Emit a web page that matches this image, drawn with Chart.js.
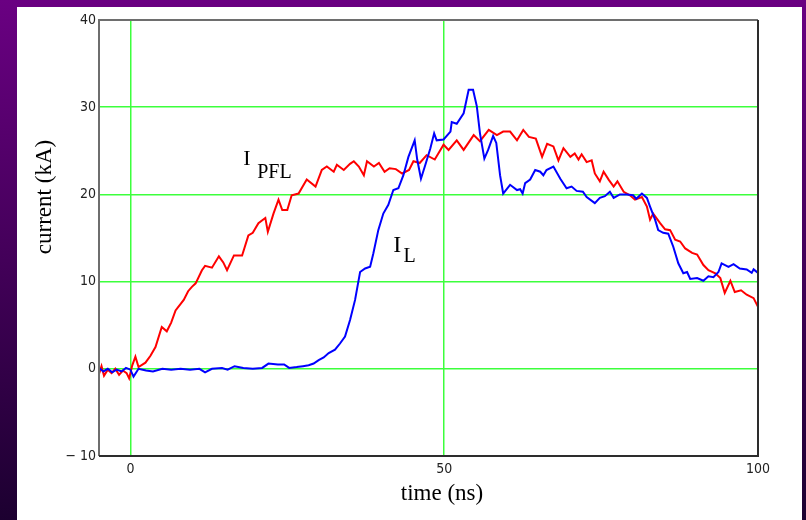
<!DOCTYPE html>
<html lang="en">
<head>
    <meta charset="UTF-8">
    <title>current x time</title>
    <style>
        html, body { margin: 0; padding: 0; }
        body {
            width: 806px;
            height: 520px;
            overflow: hidden;
            background: linear-gradient(to bottom, #6a0082, #1c0030);
            position: relative;
        }
        .painel {
            position: absolute;
            left: 17px;
            top: 7px;
            width: 785px;
            height: 513px;
            background: #ffffff;
        }
        #grafico {
            position: absolute;
            left: 0;
            top: 0;
        }
    </style>
</head>
<body>
    <div class="painel"></div>
    <canvas id="grafico" width="806" height="520"></canvas>

    <script src="https://cdn.jsdelivr.net/npm/chart.js"></script>
    <script>

        // I_PFL (vermelho)
        const tempoPFL = [-5, -4.6, -4.2, -3.6, -3, -2.4, -1.8, -1.2, -0.6, -0.2, 0.3, 0.8, 1.3, 2.4, 3.2, 4, 5, 5.8, 6.5, 7.2,
            8.5, 9.2, 9.8, 10.4, 11.4, 11.9, 13, 14.1, 14.8, 15.4, 16.5, 17.8, 18.8, 19.5, 20.4, 21.5, 21.9, 22.8, 23.6, 24.2,
            25, 25.7, 26.8, 28.1, 29.5, 30.5, 31.3, 32.4, 32.9, 34, 35, 35.6, 36.4, 37.2, 37.7, 38.8, 39.6, 40.5, 41.3, 42.3,
            43.3, 44.4, 45.1, 46.1, 47.2, 48.5, 49.9, 50.7, 52, 53.1, 54.7, 55.7, 57.1, 58.4, 59.4, 60.5, 61.6, 62.6, 63.5, 64.6,
            65.6, 66.4, 67.4, 68.2, 69, 70.1, 70.8, 71.4, 71.9, 72.7, 73.5, 74, 74.8, 75.4, 76.2, 77, 77.6, 78.6, 79.6, 80.4,
            81.5, 82.3, 82.8, 83.3, 84.4, 85.2, 86, 86.8, 87.6, 88.4, 89.5, 90.3, 91.3, 92.1, 93.2, 94, 94.7, 95.6, 96.3, 97.3,
            98.2, 99.3, 100];
        const correntePFL = [-0.6, 0.3, -0.8, -0.1, -0.5, 0, -0.7, -0.2, -0.5, -1.1, 0.4, 1.4, 0.2, 0.7, 1.5, 2.5, 4.8, 4.3, 5.3, 6.7,
            7.9, 8.9, 9.4, 9.8, 11.3, 11.8, 11.6, 12.9, 12.2, 11.3, 13, 13, 15.3, 15.6, 16.7, 17.3, 15.7, 17.8, 19.4, 18.2,
            18.2, 19.9, 20.1, 21.7, 20.9, 22.8, 23.2, 22.6, 23.4, 22.8, 23.5, 23.8, 23.2, 22.2, 23.8, 23.2, 23.6, 22.6, 23, 22.9,
            22.4, 22.8, 23.8, 23.6, 24.5, 24, 25.7, 25.1, 26.2, 25.1, 26.8, 26.1, 27.4, 26.8, 27.2, 27.2, 26.2, 27.4, 26.6, 26.4,
            24.3, 25.8, 25.5, 23.9, 25.3, 24.3, 24.7, 24, 24.6, 23.7, 23.9, 22.4, 21.5, 22.6, 21.7, 20.9, 21.5, 20.3, 19.9, 19.4,
            19.7, 18.6, 17.1, 17.8, 16.7, 16, 15.9, 14.8, 14.6, 13.8, 13.3, 13.1, 11.9, 11.3, 10.95, 10.4, 8.7, 10.1, 8.8, 9,
            8.5, 8.1, 7.1];

        // I_L (azul)
        const tempoL = [-5, -4.3, -3.6, -2.9, -2.2, -1.4, -0.7, 0, 0.5, 1.3, 2.5, 3.6, 5.1, 6.5, 8, 9.5, 11, 11.9, 13, 14.6,
            15.5, 16.6, 18, 19.5, 21, 22, 23.5, 24.5, 25.3, 26.5, 27.5, 28.4, 29.2, 30, 30.8, 31.6, 32.6, 33.4, 34.2, 35,
            35.8, 36.6, 37.4, 38.2, 38.7, 39.5, 40.3, 41.1, 41.9, 42.7, 43.5, 44.3, 45.3, 45.7, 46.3, 47, 47.8, 48.4, 48.8, 49.9,
            51, 51.2, 52, 53.1, 53.9, 54.6, 55.2, 55.7, 56.4, 57, 57.8, 58.3, 58.9, 59.4, 60.5, 61.6, 62.1, 62.5, 62.9, 63.7,
            64.5, 65.3, 65.8, 66.3, 67.4, 68.5, 69.5, 70.3, 71.1, 72.1, 72.7, 74, 74.8, 75.6, 76.4, 77, 78, 79.1, 80.1, 80.6,
            81.5, 82.3, 82.8, 83.6, 84.1, 84.9, 85.7, 86.5, 87.3, 88.1, 88.7, 89.2, 90.3, 91.3, 92.1, 92.9, 93.7, 94.2, 95.3, 96.1,
            97.1, 98.2, 99, 99.3, 100];
        const correnteL = [0.1, -0.3, 0, -0.4, -0.1, -0.3, 0.1, -0.1, -0.9, 0, -0.2, -0.3, 0, -0.1, 0, -0.1, 0, -0.4, 0, 0.1,
            -0.1, 0.3, 0.1, 0, 0.1, 0.6, 0.5, 0.5, 0.1, 0.2, 0.3, 0.4, 0.6, 1, 1.3, 1.8, 2.2, 2.9, 3.7, 5.6,
            7.9, 11.1, 11.5, 11.7, 13.2, 15.9, 17.8, 18.8, 20.5, 20.7, 22.2, 24.3, 26.2, 24, 21.8, 23.4, 25.3, 27, 26.2, 26.3,
            27.2, 28.3, 28.1, 29.3, 32, 32, 30.1, 27, 24.1, 25.1, 26.7, 25.9, 22.2, 20.1, 21.1, 20.5, 20.6, 20.1, 21.3, 21.7,
            22.8, 22.6, 22.2, 22.8, 23.2, 21.8, 20.7, 20.9, 20.4, 20.3, 19.7, 19, 19.6, 19.8, 20.3, 19.6, 20, 20, 19.9, 19.5,
            20.1, 19.6, 18.6, 17.1, 15.9, 15.6, 15.5, 14, 12.1, 10.95, 11.1, 10.3, 10.4, 10.1, 10.6, 10.5, 11.1, 12.1, 11.7, 12,
            11.5, 11.4, 11, 11.4, 11];

        // ticks dos eixos
        const ticksX = [0, 50, 100];
        const ticksY = [-10, 0, 10, 20, 30, 40];

        const verde = 'rgb(60,255,60)';
        const fonteTicks = { family: '"Liberation Sans Narrow", "DejaVu Sans Condensed", sans-serif', size: 14 };

        function pontos(xs, ys) {
            return xs.map((x, i) => ({ x: x, y: ys[i] }));
        }

        // moldura do grafico + textos (titulos dos eixos e rotulos das curvas)
        const moldura = {
            id: 'moldura',
            afterDraw(chart) {
                const ctx = chart.ctx;
                const a = chart.chartArea;
                const sx = chart.scales.x;
                const sy = chart.scales.y;
                ctx.save();
                ctx.lineWidth = 2;
                ctx.strokeStyle = 'rgb(110,110,110)';
                ctx.beginPath();
                ctx.moveTo(a.left, a.bottom);
                ctx.lineTo(a.left, a.top);
                ctx.lineTo(a.right, a.top);
                ctx.stroke();
                ctx.strokeStyle = 'rgb(45,45,45)';
                ctx.beginPath();
                ctx.moveTo(a.left, a.bottom);
                ctx.lineTo(a.right, a.bottom);
                ctx.lineTo(a.right, a.top);
                ctx.stroke();

                ctx.fillStyle = '#000';
                ctx.textBaseline = 'alphabetic';
                ctx.textAlign = 'left';
                ctx.font = '22px "Liberation Serif"';
                ctx.fillText('I', sx.getPixelForValue(18.0), sy.getPixelForValue(23.4));
                ctx.font = '20px "Liberation Serif"';
                ctx.fillText('PFL', sx.getPixelForValue(20.2), sy.getPixelForValue(21.9));
                ctx.font = '24px "Liberation Serif"';
                ctx.fillText('I', sx.getPixelForValue(41.9), sy.getPixelForValue(13.4));
                ctx.font = '20px "Liberation Serif"';
                ctx.fillText('L', sx.getPixelForValue(43.5), sy.getPixelForValue(12.2));

                ctx.font = '23px "Liberation Serif"';
                ctx.textAlign = 'center';
                ctx.textBaseline = 'middle';
                ctx.fillText('time (ns)', 442, 494);
                ctx.translate(45, 197);
                ctx.rotate(-Math.PI / 2);
                ctx.fillText('current (kA)', 0, 0);
                ctx.restore();
            }
        };

        const ctxGrafico = document.getElementById('grafico').getContext('2d');

        const grafico = new Chart(ctxGrafico, {
            type: 'scatter',
            data: {
                datasets: [
                    {
                        label: 'I L',
                        data: pontos(tempoL, correnteL),
                        showLine: true,
                        borderColor: '#0000ff',
                        borderWidth: 2,
                        pointRadius: 0,
                        tension: 0
                    },
                    {
                        label: 'I PFL',
                        data: pontos(tempoPFL, correntePFL),
                        showLine: true,
                        borderColor: '#ff0000',
                        borderWidth: 2,
                        pointRadius: 0,
                        tension: 0
                    }
                ]
            },
            options: {
                responsive: false,
                animation: false,
                events: [],
                layout: {
                    padding: { left: 0, top: 20, right: 48, bottom: 0 }
                },
                plugins: {
                    legend: { display: false },
                    tooltip: { enabled: false }
                },
                scales: {
                    x: {
                        type: 'linear',
                        min: -5,
                        max: 100,
                        afterFit: scale => { scale.height = 64; },
                        afterBuildTicks: scale => { scale.ticks = ticksX.map(v => ({ value: v })); },
                        grid: {
                            drawTicks: false,
                            lineWidth: 1.5,
                            color: c => (c.tick && c.tick.value === 100) ? 'rgba(0,0,0,0)' : verde
                        },
                        border: { display: false },
                        ticks: {
                            padding: 5,
                            color: '#222',
                            font: fonteTicks,
                            maxRotation: 0
                        }
                    },
                    y: {
                        type: 'linear',
                        min: -10,
                        max: 40,
                        afterFit: scale => { scale.width = 99; },
                        afterBuildTicks: scale => { scale.ticks = ticksY.map(v => ({ value: v })); },
                        grid: {
                            drawTicks: false,
                            lineWidth: 1.5,
                            color: c => (c.tick && (c.tick.value === -10 || c.tick.value === 40)) ? 'rgba(0,0,0,0)' : verde
                        },
                        border: { display: false },
                        ticks: {
                            padding: 3,
                            color: '#222',
                            font: fonteTicks,
                            callback: v => v < 0 ? '\u2212 ' + Math.abs(v) : v
                        }
                    }
                }
            },
            plugins: [moldura]
        });

    </script>
</body>
</html>
